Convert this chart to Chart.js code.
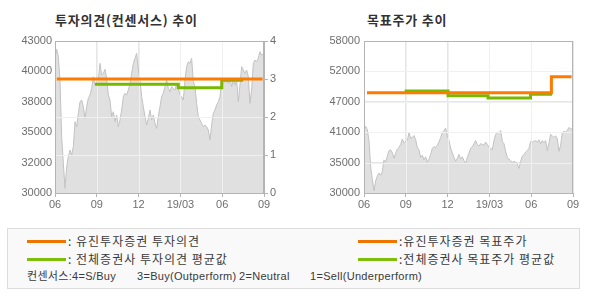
<!DOCTYPE html>
<html><head><meta charset="utf-8">
<script src="https://cdn.jsdelivr.net/npm/chart.js@4/dist/chart.umd.min.js"></script>
<style>
html,body{margin:0;padding:0;background:#fff;width:590px;height:300px;overflow:hidden;font-family:'Liberation Sans','Noto Sans CJK KR',sans-serif;}
.t{position:absolute;font-family:'Noto Sans CJK KR',sans-serif;font-weight:bold;font-size:13px;letter-spacing:0.8px;color:#333;line-height:16px;white-space:nowrap;}
.cv{position:absolute;top:30px;width:295px;height:190px;}
#lg{position:absolute;left:7px;top:228px;width:571px;height:59px;border:1px solid #dcdcdc;background:#f9f9f9;}
.sw{position:absolute;height:3px;width:39px;}
.lt{position:absolute;font-family:'Noto Sans CJK KR',sans-serif;font-size:12px;letter-spacing:1px;color:#3a3a3a;line-height:14px;white-space:nowrap;}
.ct{position:absolute;font-family:'Liberation Sans','Noto Sans CJK KR',sans-serif;font-size:11px;letter-spacing:0.3px;color:#3a3a3a;line-height:13px;white-space:nowrap;}
</style></head>
<body>
<div class="t" style="left:55px;top:12px;">투자의견(컨센서스) 추이</div>
<div class="t" style="left:367px;top:12px;">목표주가 추이</div>
<div class="cv" style="left:0;"><canvas id="c1" width="295" height="190"></canvas></div>
<div class="cv" style="left:295px;"><canvas id="c2" width="295" height="190"></canvas></div>
<div id="lg">
  <div class="sw" style="left:19px;top:11px;background:#ee7400;"></div>
  <div class="lt" style="left:60px;top:5px;">: 유진투자증권 투자의견</div>
  <div class="sw" style="left:19px;top:29px;background:#7fbf0a;"></div>
  <div class="lt" style="left:60px;top:23px;">: 전체증권사 투자의견 평균값</div>
  <div class="sw" style="left:350px;top:11px;background:#ee7400;"></div>
  <div class="lt" style="left:391px;top:5px;">:유진투자증권 목표주가</div>
  <div class="sw" style="left:350px;top:29px;background:#7fbf0a;"></div>
  <div class="lt" style="left:391px;top:23px;">:전체증권사 목표주가 평균값</div>
  <div class="ct" style="left:19px;top:41px;">컨센서스:4=S/Buy</div>
  <div class="ct" style="left:129px;top:41px;">3=Buy(Outperform)</div>
  <div class="ct" style="left:231px;top:41px;">2=Neutral</div>
  <div class="ct" style="left:302px;top:41px;">1=Sell(Underperform)</div>
</div>
<script>
// ---- data ----
const xTickValues = [0, 3, 6, 9, 12, 15];           // months since 2018-06
const xTickLabels = ['06', '09', '12', '19/03', '06', '09'];
const priceStepMonths = 0.1196;                     // sample spacing of the price series
const priceValues = [
  41520,42290,41660,39665,34820,32540,30400,32250,33110,33680,33250,33960,36100,35670,36810,37810,
  37950,37385,36385,37385,38095,38380,38950,39950,39240,39520,39665,41090,40090,40235,40580,39805,
  38380,37955,36530,36955,36100,36670,35670,36245,37100,38240,38525,38380,38810,39380,40235,41090,
  41520,41945,40520,39665,38240,37385,36530,35815,36385,37100,36245,36670,35960,35530,36530,37385,
  38240,38525,39095,39665,38950,38665,39095,38950,38810,39380,38950,38380,38240,37955,39665,40805,
  41230,41090,41520,39520,39095,37670,36530,36245,35960,35670,35815,35670,35390,34530,35815,36810,
  37100,37525,37810,38240,39520,39380,39520,39665,39380,39805,39095,39665,39240,39665,37810,39240,
  40805,40520,40235,40520,39950,37670,38810,41090,41375,41230,41520,42090,41800,41890
];
const opinionX = [0.12, 14.9];
const opinionY = [3, 3];
const opinionAvgX = [2.87, 8.85, 11.97, 13.5];
const opinionAvgY = [2.86, 2.77, 2.97, 2.97];
const targetX = [0.21, 13.45, 14.9];
const targetY = [48480, 51420, 51420];
const targetAvgX = [2.92, 6.03, 8.9, 11.95, 13.5];
const targetAvgY = [48790, 47925, 47500, 48180, 48180];
const leftPriceTicks = [30000, 32600, 35200, 37800, 40400, 43000];
const leftPriceLabels = ['30000', '32000', '35000', '38000', '40000', '43000'];
const opinionTicks = [0, 1, 2, 3, 4];
const rightPriceTicks = [30000, 35600, 41200, 46800, 52400, 58000];
const rightPriceLabels = ['30000', '35000', '41000', '47000', '52000', '58000'];

// ---- styles ----
const ORANGE = '#ff7a00', GREEN = '#78b800';
const AREA = '#e0e0e0', AREA_LINE = '#c2c2c2';
const GRID = '#e6e6e6', GRID_ON_AREA = '#f0f0f0', FRAME = '#b4b4b4';
const TICK_FONT = {family: "'Liberation Sans', Arial, sans-serif", size: 11};
const TICK_COLOR = '#6e6e6e';

const pts = (xs, ys) => xs.map((x, i) => ({x, y: ys[i]}));
const pricePts = priceValues.map((v, i) => ({x: i * priceStepMonths, y: v}));

const frame = {
  id: 'frame',
  afterDatasetDraw(chart, args) {
    const ds = chart.data.datasets[args.index];
    if (!ds.isPrice) return;
    const a = chart.chartArea, ctx = chart.ctx;
    ctx.save();
    ctx.strokeStyle = GRID_ON_AREA; ctx.lineWidth = 1;
    Object.values(chart.scales).forEach(s => {
      if (!s.options.grid.display || !s.options.grid.drawOnChartArea) return;
      s.ticks.forEach(t => {
        const p = Math.round(s.getPixelForValue(t.value)) + 0.5;
        ctx.beginPath();
        if (s.isHorizontal()) {
          if (p <= a.left + 1 || p >= a.right - 1) return;
          ctx.moveTo(p, a.top); ctx.lineTo(p, a.bottom);
        } else {
          if (p <= a.top + 1 || p >= a.bottom - 1) return;
          ctx.moveTo(a.left, p); ctx.lineTo(a.right, p);
        }
        ctx.stroke();
      });
    });
    ctx.restore();
  },
  afterDraw(chart) {
    const a = chart.chartArea, ctx = chart.ctx;
    ctx.save();
    ctx.strokeStyle = FRAME; ctx.lineWidth = 1;
    ctx.strokeRect(Math.round(a.left) + 0.5, Math.round(a.top) + 0.5,
                   Math.round(a.right - a.left) - 1, Math.round(a.bottom - a.top));
    ctx.restore();
  }
};

function xScale() {
  return {
    type: 'linear', min: 0, max: 15,
    afterBuildTicks: s => { s.ticks = xTickValues.map(v => ({value: v})); },
    afterFit: s => { s.height = 27; },
    ticks: {autoSkip: false, maxRotation: 0, font: TICK_FONT, color: TICK_COLOR, padding: 1,
            callback: (v) => xTickLabels[xTickValues.indexOf(v)]},
    grid: {color: GRID, tickLength: 4, tickColor: FRAME},
    border: {color: FRAME}
  };
}

function priceDataset(axis) {
  return {
    isPrice: true, data: pricePts, yAxisID: axis, order: 5,
    borderColor: AREA_LINE, borderWidth: 1, backgroundColor: AREA,
    fill: 'start', pointRadius: 0, tension: 0
  };
}
function stepDataset(data, color, axis, order) {
  return {data, yAxisID: axis, order, borderColor: color, borderWidth: 3,
          stepped: 'before', pointRadius: 0, fill: false, borderCapStyle: 'butt'};
}

Chart.defaults.animation = false;

new Chart(document.getElementById('c1'), {
  type: 'line',
  data: {datasets: [
    priceDataset('yPrice'),
    stepDataset(pts(opinionAvgX, opinionAvgY), GREEN, 'yOp', 2),
    stepDataset(pts(opinionX, opinionY), ORANGE, 'yOp', 1)
  ]},
  options: {
    responsive: false, maintainAspectRatio: false,
    layout: {padding: {top: 11, left: 0, right: 0, bottom: 0}},
    plugins: {legend: {display: false}, tooltip: {enabled: false}},
    scales: {
      x: xScale(),
      yPrice: {
        position: 'left', min: 30000, max: 43000,
        afterBuildTicks: s => { s.ticks = leftPriceTicks.map(v => ({value: v})); },
        afterFit: s => { s.width = 55; },
        ticks: {font: TICK_FONT, color: TICK_COLOR, padding: 3,
                callback: v => leftPriceLabels[leftPriceTicks.indexOf(v)]},
        grid: {display: false, drawTicks: false},
        border: {color: FRAME}
      },
      yOp: {
        position: 'right', min: 0, max: 4,
        afterBuildTicks: s => { s.ticks = opinionTicks.map(v => ({value: v})); },
        afterFit: s => { s.width = 31; },
        ticks: {font: TICK_FONT, color: TICK_COLOR, padding: 2},
        grid: {color: GRID, tickLength: 4, tickColor: FRAME},
        border: {color: FRAME}
      }
    }
  },
  plugins: [frame]
});

new Chart(document.getElementById('c2'), {
  type: 'line',
  data: {datasets: [
    priceDataset('y'),
    stepDataset(pts(targetAvgX, targetAvgY), GREEN, 'y', 2),
    stepDataset(pts(targetX, targetY), ORANGE, 'y', 1)
  ]},
  options: {
    responsive: false, maintainAspectRatio: false,
    layout: {padding: {top: 11, left: 0, right: 17, bottom: 0}},
    plugins: {legend: {display: false}, tooltip: {enabled: false}},
    scales: {
      x: xScale(),
      y: {
        position: 'left', min: 30000, max: 58000,
        afterBuildTicks: s => { s.ticks = rightPriceTicks.map(v => ({value: v})); },
        afterFit: s => { s.width = 69; },
        ticks: {font: TICK_FONT, color: TICK_COLOR, padding: 4,
                callback: v => rightPriceLabels[rightPriceTicks.indexOf(v)]},
        grid: {color: GRID, drawTicks: false},
        border: {color: FRAME}
      }
    }
  },
  plugins: [frame]
});
</script>
</body></html>
